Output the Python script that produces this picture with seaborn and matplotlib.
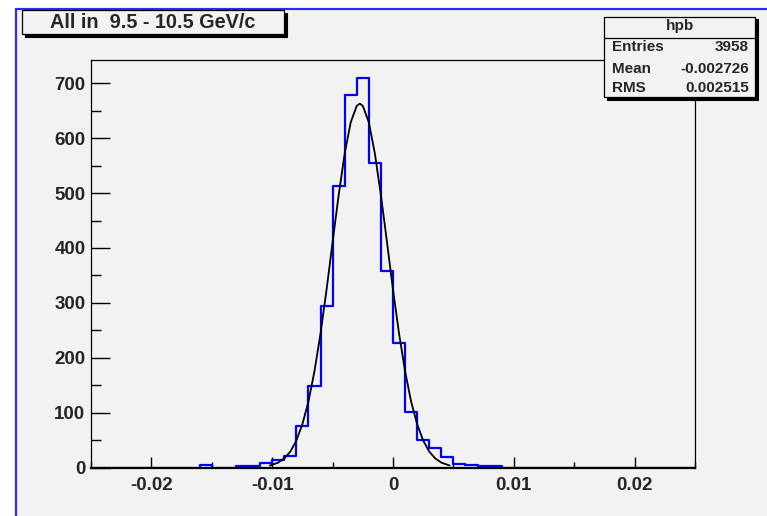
import numpy as np
import pandas as pd
import matplotlib
matplotlib.use("Agg")
import matplotlib.pyplot as plt
from matplotlib.patches import Rectangle
from matplotlib.lines import Line2D
from matplotlib.ticker import MultipleLocator
import seaborn as sns

# ---- data ----
bin_lo = [-0.016, -0.013, -0.012, -0.011, -0.010, -0.009, -0.008, -0.007,
          -0.006, -0.005, -0.004, -0.003, -0.002, -0.001, 0.000, 0.001,
          0.002, 0.003, 0.004, 0.005, 0.006, 0.007, 0.008]
counts = [5, 2, 3, 9, 14, 21, 75, 149,
          294, 513, 679, 709, 555, 358, 227, 102,
          50, 35, 19, 6, 4, 3, 2]

fit_x = [-0.0102, -0.0095, -0.0090, -0.0085, -0.0080, -0.0075, -0.0070, -0.0065,
         -0.0060, -0.0055, -0.0050, -0.0045, -0.0040, -0.0035, -0.0030, -0.00275,
         -0.0025, -0.0020, -0.0015, -0.0010, -0.0005, 0.0000, 0.0005, 0.0010,
         0.0015, 0.0020, 0.0025, 0.0030, 0.0035, 0.0040, 0.0047]
fit_y = [3.5, 8.9, 16.5, 29, 49, 79, 120, 175.5,
         244, 324, 411, 496, 572, 629, 659, 663,
         659, 629, 572, 496, 411, 324, 244, 175.5,
         120, 79, 49, 29, 16.5, 8.9, 3.5]

x_ticks = [-0.02, -0.01, 0.0, 0.01, 0.02]
x_ticklabels = ["-0.02", "-0.01", "0", "0.01", "0.02"]
y_ticks = [0, 100, 200, 300, 400, 500, 600, 700]
y_ticklabels = ["0", "100", "200", "300", "400", "500", "600", "700"]

title_text = "All in  9.5 - 10.5 GeV/c"
stats_name = "hpb"
stats_rows = [("Entries", "3958"), ("Mean", "-0.002726"), ("RMS", "0.002515")]

# ---- figure ----
sns.set_style("ticks")
plt.rcParams["font.family"] = ["Liberation Sans", "DejaVu Sans"]

W, H = 767, 516
fig = plt.figure(figsize=(W / 100, H / 100), dpi=100)
fig.patch.set_facecolor("white")

def fx(px):
    return px / W

def fy(py):
    return 1 - py / H

GRAY = "#f2f2f2"
# canvas background with blue highlight border
fig.patches.append(Rectangle((fx(15), 0), 1 - fx(15), fy(8), transform=fig.transFigure,
                             facecolor=GRAY, edgecolor="none", zorder=-5))
fig.lines.append(Line2D([fx(15.5), fx(15.5)], [0, fy(8.5)], transform=fig.transFigure,
                        color="#2b2bff", lw=1.6, zorder=-4))
fig.lines.append(Line2D([fx(15.5), 1], [fy(8.5), fy(8.5)], transform=fig.transFigure,
                        color="#2b2bff", lw=1.6, zorder=-4))

L, R, T, B = 91, 695, 60, 467.5
ax = fig.add_axes([fx(L), fy(B), fx(R) - fx(L), (B - T) / H])
ax.set_facecolor(GRAY)

hist_df = pd.DataFrame({"x": np.array(bin_lo) + 0.0005, "n": counts})
sns.histplot(data=hist_df, x="x", weights="n", bins=50, binrange=(-0.025, 0.025),
             element="step", fill=False, color="#0000ff", linewidth=1.6, ax=ax)
fit_df = pd.DataFrame({"x": fit_x, "y": fit_y})
sns.lineplot(data=fit_df, x="x", y="y", color="black", linewidth=1.3, ax=ax, sort=False)

ax.set_xlim(-0.025, 0.025)
ax.set_ylim(0, 742.5)
ax.set_xlabel("")
ax.set_ylabel("")

ax.set_xticks(x_ticks)
ax.set_xticklabels(x_ticklabels)
ax.set_yticks(y_ticks)
ax.set_yticklabels(y_ticklabels)
ax.xaxis.set_minor_locator(MultipleLocator(0.005))
ax.yaxis.set_minor_locator(MultipleLocator(50))

for lab in ax.get_xticklabels() + ax.get_yticklabels():
    lab.set_fontweight("bold")
    lab.set_fontsize(13.5)

ax.tick_params(axis="x", which="major", direction="in", length=7.8, width=1, pad=6.5, color="black")
ax.tick_params(axis="x", which="minor", direction="in", length=4.3, width=1, color="black")
ax.tick_params(axis="y", which="major", direction="in", length=13.4, width=1, pad=4, color="black")
ax.tick_params(axis="y", which="minor", direction="in", length=7.2, width=1, color="black")

for s in ["top", "right", "left"]:
    ax.spines[s].set_color("black")
    ax.spines[s].set_linewidth(0.9)
ax.spines["bottom"].set_color("black")
ax.spines["bottom"].set_linewidth(1.6)
ax.spines["bottom"].set_zorder(5)

# ---- title box ----
def pave(x0, y0, x1, y1, shadow=2.5):
    fig.patches.append(Rectangle((fx(x0 + shadow), fy(y1 + shadow)), fx(x1 - x0), (y1 - y0) / H,
                                 transform=fig.transFigure, facecolor="black",
                                 edgecolor="black", lw=0.8, zorder=10))
    fig.patches.append(Rectangle((fx(x0), fy(y1)), fx(x1 - x0), (y1 - y0) / H,
                                 transform=fig.transFigure, facecolor=GRAY,
                                 edgecolor="black", lw=0.9, zorder=11))

pave(22, 10, 284, 34)
fig.text(fx(153), fy(22.5), title_text, ha="center", va="center", fontsize=14.3,
         fontweight="bold", zorder=12)

# ---- stats box ----
pave(604, 16.5, 755, 97)
fig.lines.append(Line2D([fx(604), fx(755)], [fy(38.3), fy(38.3)], transform=fig.transFigure,
                        color="black", lw=0.9, zorder=12))
fig.text(fx(680), fy(26), stats_name, ha="center", va="center", fontsize=11,
         fontweight="bold", zorder=12)
row_y = [47, 69, 88]
for (k, v), yy in zip(stats_rows, row_y):
    fig.text(fx(612), fy(yy), k, ha="left", va="center", fontsize=11,
             fontweight="bold", zorder=12)
    fig.text(fx(749), fy(yy), v, ha="right", va="center", fontsize=11,
             fontweight="bold", zorder=12)

fig.savefig("out.png", dpi=100, facecolor=fig.get_facecolor())
